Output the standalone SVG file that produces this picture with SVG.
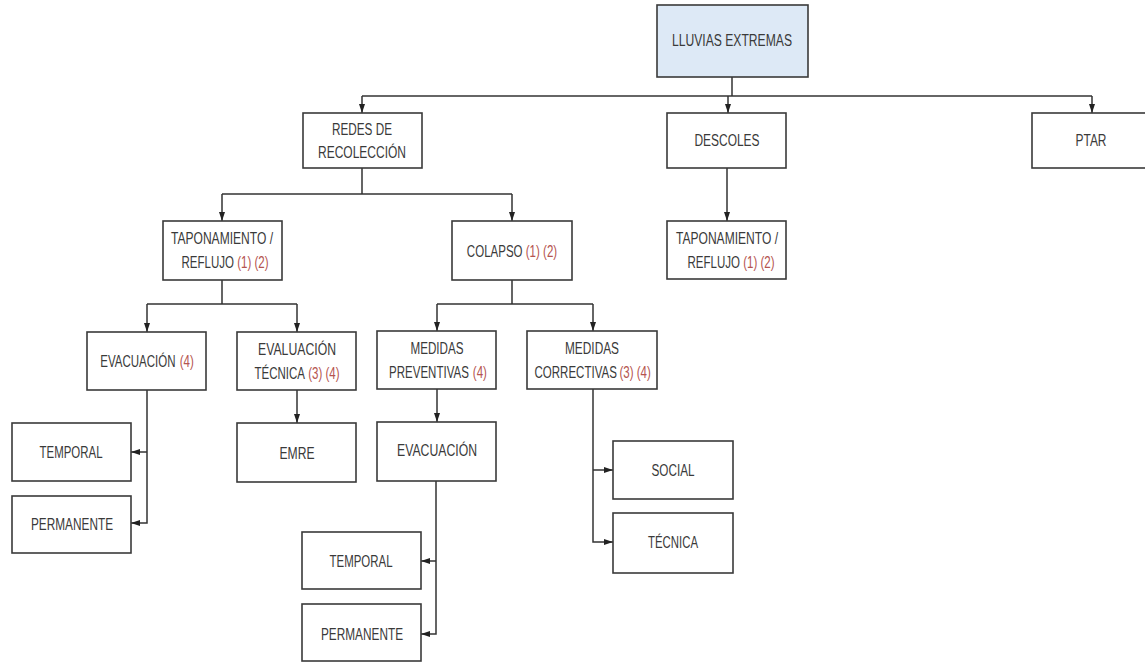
<svg xmlns="http://www.w3.org/2000/svg" width="1145" height="664" viewBox="0 0 1145 664">
<style>
.box{fill:#ffffff;stroke:#3a3a3a;stroke-width:1.6}
.top{fill:#dde9f6}
.t{font-family:"Liberation Sans",Arial,sans-serif;font-size:16px;fill:#3a3a3a;text-anchor:middle}
.s{font-family:"Liberation Sans",Arial,sans-serif;font-size:16px;fill:#3a3a3a;text-anchor:start}
.r{fill:#b5544f}
.c{fill:none;stroke:#333333;stroke-width:1.5}
</style>
<defs>
<marker id="ah" viewBox="0 0 10 10" refX="10" refY="5" markerWidth="9" markerHeight="6" preserveAspectRatio="none" orient="auto" markerUnits="userSpaceOnUse">
<path d="M0,0 L10,5 L0,10 z" fill="#222222"/>
</marker>
</defs>
<rect width="1145" height="664" fill="#ffffff"/>
<g id="connectors">
<path class="c" d="M732,77 V96"/>
<path class="c" d="M362,96 H1092"/>
<path class="c" d="M362,96 V113" marker-end="url(#ah)"/>
<path class="c" d="M728,96 V113" marker-end="url(#ah)"/>
<path class="c" d="M1092,96 V113" marker-end="url(#ah)"/>
<path class="c" d="M362,168 V194 M222,194 H512"/>
<path class="c" d="M222,194 V221" marker-end="url(#ah)"/>
<path class="c" d="M512,194 V221" marker-end="url(#ah)"/>
<path class="c" d="M727,168 V221" marker-end="url(#ah)"/>
<path class="c" d="M222,280 V304 M147,304 H297"/>
<path class="c" d="M147,304 V332" marker-end="url(#ah)"/>
<path class="c" d="M297,304 V332" marker-end="url(#ah)"/>
<path class="c" d="M297,390 V423" marker-end="url(#ah)"/>
<path class="c" d="M147,390 V523 H131" marker-end="url(#ah)"/>
<path class="c" d="M147,452 H131" marker-end="url(#ah)"/>
<path class="c" d="M512,280 V304 M437,304 H593"/>
<path class="c" d="M437,304 V331" marker-end="url(#ah)"/>
<path class="c" d="M593,304 V331" marker-end="url(#ah)"/>
<path class="c" d="M437,389 V422" marker-end="url(#ah)"/>
<path class="c" d="M436,481 V634 H421" marker-end="url(#ah)"/>
<path class="c" d="M436,561 H421" marker-end="url(#ah)"/>
<path class="c" d="M593,389 V542 H613" marker-end="url(#ah)"/>
<path class="c" d="M593,470 H613" marker-end="url(#ah)"/>
</g>
<g id="lluvias">
<rect class="box top" x="657" y="5" width="151" height="72"/>
<text class="t" x="732" y="46" textLength="120" lengthAdjust="spacingAndGlyphs">LLUVIAS EXTREMAS</text>
</g>
<g id="redes">
<rect class="box" x="303" y="113" width="119" height="55"/>
<text class="t" x="362" y="135" textLength="60" lengthAdjust="spacingAndGlyphs">REDES DE</text>
<text class="t" x="362" y="158" textLength="88" lengthAdjust="spacingAndGlyphs">RECOLECCIÓN</text>
</g>
<g id="descoles">
<rect class="box" x="667" y="113" width="119" height="55"/>
<text class="t" x="727" y="146" textLength="65" lengthAdjust="spacingAndGlyphs">DESCOLES</text>
</g>
<g id="ptar">
<rect class="box" x="1032" y="113" width="118" height="55"/>
<text class="t" x="1091" y="146" textLength="31" lengthAdjust="spacingAndGlyphs">PTAR</text>
</g>
<g id="taponamiento-descoles">
<rect class="box" x="667" y="221" width="119" height="58"/>
<text class="t" x="727" y="244" textLength="102" lengthAdjust="spacingAndGlyphs">TAPONAMIENTO /</text>
<g transform="translate(731,268) scale(0.72,1)">
<text class="s" x="-60.45" y="0">REFLUJO</text>
<text class="s r" x="16.9" y="0">(1) (2)</text>
</g>
</g>
<g id="taponamiento-redes">
<rect class="box" x="163" y="221" width="119" height="59"/>
<text class="t" x="222" y="244" textLength="102" lengthAdjust="spacingAndGlyphs">TAPONAMIENTO /</text>
<g transform="translate(225,268) scale(0.72,1)">
<text class="s" x="-60.45" y="0">REFLUJO</text>
<text class="s r" x="16.9" y="0">(1) (2)</text>
</g>
</g>
<g id="colapso">
<rect class="box" x="452" y="221" width="120" height="59"/>
<g transform="translate(512,257) scale(0.72,1)">
<text class="s" x="-62.7" y="0">COLAPSO</text>
<text class="s r" x="19.15" y="0">(1) (2)</text>
</g>
</g>
<g id="evacuacion4">
<rect class="box" x="87" y="332" width="119" height="58"/>
<g transform="translate(147,367) scale(0.72,1)">
<text class="s" x="-64.9" y="0">EVACUACIÓN</text>
<text class="s r" x="45.35" y="0">(4)</text>
</g>
</g>
<g id="evaluacion">
<rect class="box" x="237" y="332" width="119" height="58"/>
<text class="t" x="297" y="355" textLength="78" lengthAdjust="spacingAndGlyphs">EVALUACIÓN</text>
<g transform="translate(297,379) scale(0.72,1)">
<text class="s" x="-59.1" y="0">TÉCNICA</text>
<text class="s r" x="15.55" y="0">(3) (4)</text>
</g>
</g>
<g id="emre">
<rect class="box" x="237" y="423" width="119" height="59"/>
<text class="t" x="297" y="459" textLength="35" lengthAdjust="spacingAndGlyphs">EMRE</text>
</g>
<g id="temporal1">
<rect class="box" x="12" y="423" width="119" height="58"/>
<text class="t" x="71" y="458" textLength="63" lengthAdjust="spacingAndGlyphs">TEMPORAL</text>
</g>
<g id="permanente1">
<rect class="box" x="12" y="496" width="119" height="57"/>
<text class="t" x="72" y="530" textLength="82" lengthAdjust="spacingAndGlyphs">PERMANENTE</text>
</g>
<g id="preventivas">
<rect class="box" x="377" y="331" width="119" height="58"/>
<text class="t" x="437" y="354" textLength="53" lengthAdjust="spacingAndGlyphs">MEDIDAS</text>
<g transform="translate(438,378) scale(0.72,1)">
<text class="s" x="-68" y="0">PREVENTIVAS</text>
<text class="s r" x="48.45" y="0">(4)</text>
</g>
</g>
<g id="correctivas">
<rect class="box" x="527" y="331" width="130" height="58"/>
<text class="t" x="592" y="354" textLength="54" lengthAdjust="spacingAndGlyphs">MEDIDAS</text>
<g transform="translate(595,378) scale(0.72,1)">
<text class="s" x="-84" y="0">CORRECTIVAS</text>
<text class="s r" x="34" y="0">(3) (4)</text>
</g>
</g>
<g id="evacuacion2">
<rect class="box" x="377" y="422" width="119" height="59"/>
<text class="t" x="437" y="456" textLength="80" lengthAdjust="spacingAndGlyphs">EVACUACIÓN</text>
</g>
<g id="temporal2">
<rect class="box" x="302" y="532" width="119" height="57"/>
<text class="t" x="361" y="567" textLength="63" lengthAdjust="spacingAndGlyphs">TEMPORAL</text>
</g>
<g id="permanente2">
<rect class="box" x="302" y="604" width="119" height="57"/>
<text class="t" x="362" y="640" textLength="82" lengthAdjust="spacingAndGlyphs">PERMANENTE</text>
</g>
<g id="social">
<rect class="box" x="613" y="441" width="120" height="58"/>
<text class="t" x="673" y="476" textLength="43" lengthAdjust="spacingAndGlyphs">SOCIAL</text>
</g>
<g id="tecnica">
<rect class="box" x="613" y="513" width="120" height="60"/>
<text class="t" x="673" y="548" textLength="50" lengthAdjust="spacingAndGlyphs">TÉCNICA</text>
</g>
</svg>
